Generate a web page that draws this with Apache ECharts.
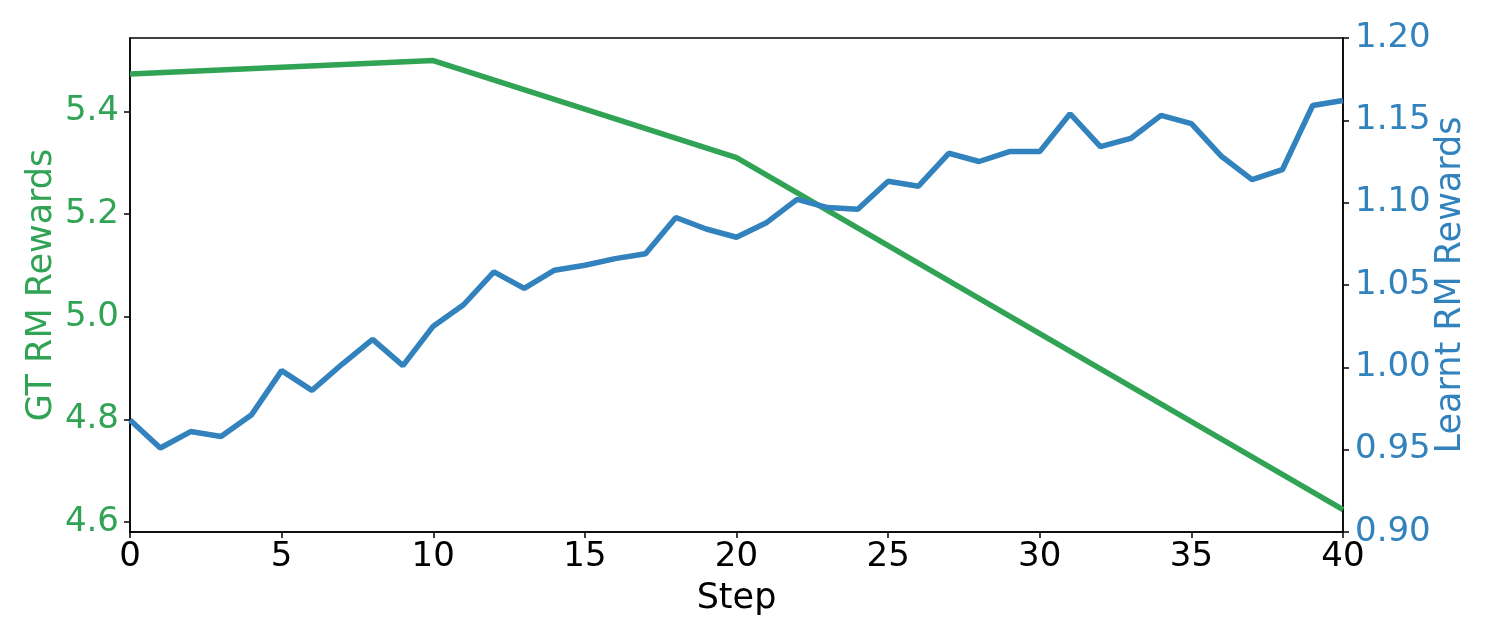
<!DOCTYPE html>
<html>
<head>
<meta charset="utf-8">
<script src="https://cdn.jsdelivr.net/npm/echarts@6/dist/echarts.min.js"></script>
<style>html,body{margin:0;padding:0;background:#fff}#c{width:1495px;height:641px}</style>
</head>
<body>
<div id="c"></div>
<script>
// Data
var gtSteps = [0, 10, 20, 40];
var gtRewards = [5.473, 5.499, 5.310, 4.624];
var learntSteps = [0,1,2,3,4,5,6,7,8,9,10,11,12,13,14,15,16,17,18,19,20,21,22,23,24,25,26,27,28,29,30,31,32,33,34,35,36,37,38,39,40];
var learntRewards = [0.968,0.951,0.961,0.958,0.971,0.998,0.986,1.002,1.017,1.001,1.025,1.038,1.058,1.048,1.059,1.062,1.066,1.069,1.091,1.084,1.079,1.088,1.102,1.097,1.096,1.113,1.110,1.130,1.125,1.131,1.131,1.154,1.134,1.139,1.153,1.148,1.128,1.114,1.120,1.159,1.162];
var xTicks = [0, 5, 10, 15, 20, 25, 30, 35, 40];
var leftTicks = [4.6, 4.8, 5.0, 5.2, 5.4];
var rightTicks = [0.90, 0.95, 1.00, 1.05, 1.10, 1.15, 1.20];

var GREEN = '#31a354', BLUE = '#3182bd';
var FONT = 'DejaVu Sans';
var TICK_FS = 34, NAME_FS = 35;

function zip(a, b) { return a.map(function (v, i) { return [v, b[i]]; }); }

var chart = echarts.init(document.getElementById('c'), null, {renderer: 'canvas'});
chart.setOption({
  animation: false,
  backgroundColor: '#fff',
  grid: {left: 130, right: 152, top: 38, bottom: 109, show: true, borderColor: '#000', borderWidth: 1.5, backgroundColor: 'transparent', outerBoundsMode: 'none'},
  xAxis: {
    type: 'value', min: 0, max: 40, interval: 5,
    name: 'Step', nameLocation: 'middle', nameGap: 49, nameMoveOverlap: false,
    nameTextStyle: {color: '#000', fontSize: NAME_FS, fontFamily: FONT},
    axisLine: {show: true, lineStyle: {color: '#000', width: 1.5}},
    axisTick: {show: true, inside: false, length: 6, lineStyle: {color: '#000', width: 1.5}, customValues: xTicks},
    axisLabel: {color: '#000', fontSize: TICK_FS, fontFamily: FONT, margin: 8, customValues: xTicks},
    splitLine: {show: false}
  },
  yAxis: [{
    type: 'value', position: 'left', min: 4.5805, max: 5.543,
    name: 'GT RM Rewards', nameLocation: 'middle', nameGap: 71, nameRotate: 90, nameMoveOverlap: false,
    nameTextStyle: {color: GREEN, fontSize: NAME_FS, fontFamily: FONT},
    axisLine: {show: true, lineStyle: {color: '#000', width: 1.5}},
    axisTick: {show: true, length: 6, lineStyle: {color: '#000', width: 1.5}, customValues: leftTicks},
    axisLabel: {color: GREEN, fontSize: TICK_FS, fontFamily: FONT, margin: 11, customValues: leftTicks, formatter: function (v) { return v.toFixed(1); }},
    splitLine: {show: false}
  }, {
    type: 'value', position: 'right', min: 0.9, max: 1.2,
    name: 'Learnt RM Rewards', nameLocation: 'middle', nameGap: 90, nameRotate: 90, nameMoveOverlap: false,
    nameTextStyle: {color: BLUE, fontSize: NAME_FS, fontFamily: FONT},
    axisLine: {show: true, lineStyle: {color: '#000', width: 1.5}},
    axisTick: {show: true, length: 6, lineStyle: {color: '#000', width: 1.5}, customValues: rightTicks},
    axisLabel: {color: BLUE, fontSize: TICK_FS, fontFamily: FONT, margin: 12, customValues: rightTicks, formatter: function (v) { return v.toFixed(2); }},
    splitLine: {show: false}
  }],
  series: [{
    type: 'line', yAxisIndex: 0, data: zip(gtSteps, gtRewards),
    showSymbol: false, symbol: 'none', lineStyle: {color: GREEN, width: 5.5}, itemStyle: {color: GREEN}, z: 2
  }, {
    type: 'line', yAxisIndex: 1, data: zip(learntSteps, learntRewards),
    showSymbol: false, symbol: 'none', lineStyle: {color: BLUE, width: 5.5}, itemStyle: {color: BLUE}, z: 3
  }]
});
</script>
</body>
</html>
